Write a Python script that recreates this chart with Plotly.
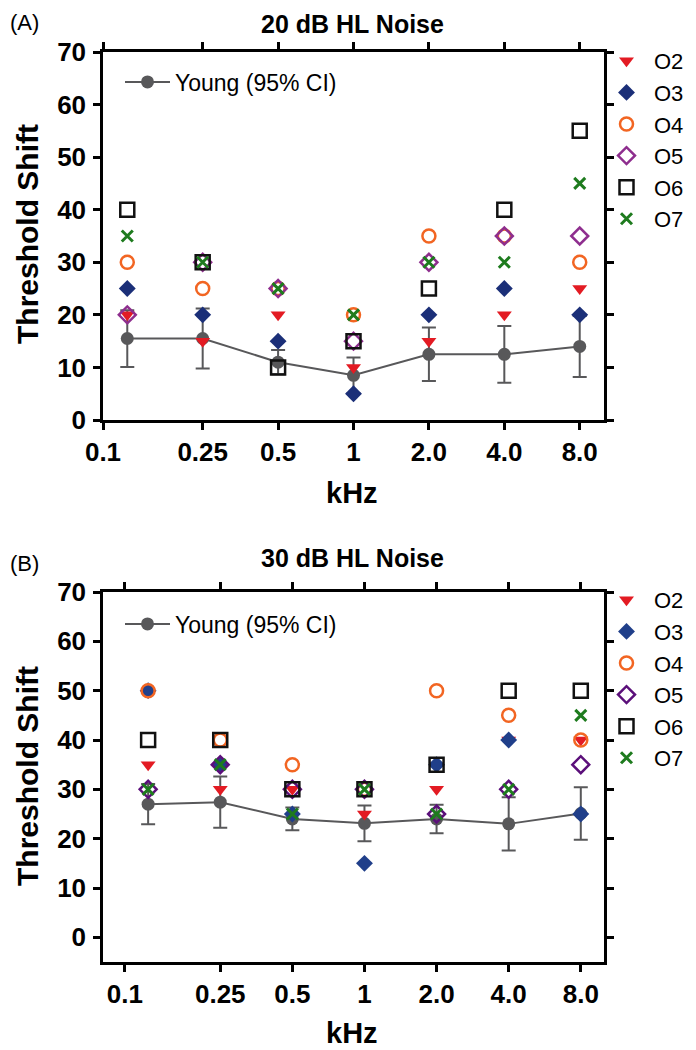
import plotly.graph_objects as go

# ---------------- data ----------------
freqs = [0.125, 0.25, 0.5, 1, 2, 4, 8]
tick_vals = [0.1, 0.25, 0.5, 1, 2, 4, 8]
tick_text = ["0.1", "0.25", "0.5", "1", "2.0", "4.0", "8.0"]
series_names = ["O2", "O3", "O4", "O5", "O6", "O7"]

# Panel A: 20 dB HL noise
young_a = [15.5, 15.5, 11.0, 8.5, 12.5, 12.5, 14.0]
young_a_ci = [5.4, 5.7, 2.3, 3.4, 5.1, 5.4, 5.8]
o2_a = [20, 15, 20, 10, 15, 20, 25]
o3_a = [25, 20, 15, 5, 20, 25, 20]
o4_a = [30, 25, 25, 20, 35, 35, 30]
o5_a = [20, 30, 25, 15, 30, 35, 35]
o6_a = [40, 30, 10, 15, 25, 40, 55]
o7_a = [35, 30, 25, 20, 30, 30, 45]

# Panel B: 30 dB HL noise
young_b = [27.0, 27.4, 24.0, 23.1, 24.0, 23.0, 25.1]
young_b_ci = [4.1, 5.2, 2.3, 3.6, 2.9, 5.4, 5.3]
o2_b = [35, 30, 30, 25, 30, 40, 40]
o3_b = [50, 35, 25, 15, 35, 40, 25]
o4_b = [50, 40, 35, 30, 50, 45, 40]
o5_b = [30, 35, 30, 30, 25, 30, 35]
o6_b = [40, 40, 30, 30, 35, 50, 50]
o7_b = [30, 35, 25, 30, 25, 30, 45]

# page has an 8px body margin: figure drawn at (8, 8)
OFF = 8
W, H = 696 - OFF, 1050 - OFF
FONT = "Liberation Sans, Arial, sans-serif"
GRAY = "#58585a"

def px_x(v):
    return (v - OFF) / W

def px_y(v):
    return 1 - (v - OFF) / H

styles_a = [
    dict(symbol="triangle-down", color="#e31b23", size=13, line=dict(width=0)),
    dict(symbol="diamond", color="#1b2f78", size=13, line=dict(width=0)),
    dict(symbol="circle-open", color="#f26522", size=13, line=dict(width=2.5, color="#f26522")),
    dict(symbol="diamond-open", color="#8e2e8e", size=13, line=dict(width=2.5, color="#8e2e8e")),
    dict(symbol="square-open", color="#111111", size=14, line=dict(width=2.5, color="#111111")),
    dict(symbol="x-thin", color="#1e7b1e", size=11, line=dict(width=3, color="#1e7b1e")),
]
styles_b = [
    dict(symbol="triangle-down", color="#e31b23", size=13, line=dict(width=0)),
    dict(symbol="diamond", color="#203f8a", size=13, line=dict(width=0)),
    dict(symbol="circle-open", color="#f26522", size=13, line=dict(width=2.5, color="#f26522")),
    dict(symbol="diamond-open", color="#5b0f7a", size=13, line=dict(width=2.5, color="#5b0f7a")),
    dict(symbol="square-open", color="#111111", size=14, line=dict(width=2.5, color="#111111")),
    dict(symbol="x-thin", color="#1e7b1e", size=11, line=dict(width=3, color="#1e7b1e")),
]

fig = go.Figure()

panels = [
    ("x", "y", young_a, young_a_ci, [o2_a, o3_a, o4_a, o5_a, o6_a, o7_a], styles_a, "legend", "legend2"),
    ("x2", "y2", young_b, young_b_ci, [o2_b, o3_b, o4_b, o5_b, o6_b, o7_b], styles_b, "legend3", "legend4"),
]

for xa, ya, young, ci, series, styles, leg1, leg2 in panels:
    fig.add_trace(go.Scatter(
        x=freqs, y=young, xaxis=xa, yaxis=ya, mode="lines+markers",
        name="Young (95% CI)", legend=leg1, showlegend=True,
        line=dict(color=GRAY, width=2),
        marker=dict(color=GRAY, size=13, symbol="circle"),
        error_y=dict(type="data", array=ci, visible=True, color=GRAY, thickness=2, width=7),
    ))
    for name, vals, st in zip(series_names, series, styles):
        fig.add_trace(go.Scatter(
            x=freqs, y=vals, xaxis=xa, yaxis=ya, mode="markers",
            name=name, legend=leg2, showlegend=True, marker=st,
        ))

axis_common = dict(
    showline=True, linewidth=2.5, linecolor="black", mirror="ticks",
    ticks="outside", ticklen=7, tickwidth=2.5, tickcolor="black",
    showgrid=False, zeroline=False, automargin=False,
    tickfont=dict(family=FONT, size=26, color="black", weight="bold"),
)

# Panel geometry (reference pixels)
xl, xr = 103, 604
a_top, a_bot = 52, 420
b_top, b_bot = 592, 962

fig.update_layout(
    width=W, height=H, showlegend=True,
    margin=dict(l=0, r=0, t=0, b=0, autoexpand=False),
    paper_bgcolor="white", plot_bgcolor="white",
    font=dict(family=FONT, color="black"),
    xaxis=dict(axis_common, type="log", range=[-1, 1], tickvals=tick_vals, ticktext=tick_text,
               domain=[px_x(xl), px_x(xr)], anchor="y", ticklabelstandoff=0),
    yaxis=dict(axis_common, range=[0, 70], tickvals=list(range(0, 80, 10)),
               domain=[px_y(a_bot), px_y(a_top)], anchor="x", ticklabelstandoff=2),
    xaxis2=dict(axis_common, type="log", range=[-1.0915, 1], tickvals=tick_vals, ticktext=tick_text,
                domain=[px_x(xl), px_x(xr)], anchor="y2", ticklabelstandoff=0),
    yaxis2=dict(axis_common, range=[-5, 70], tickvals=list(range(0, 80, 10)),
                domain=[px_y(b_bot), px_y(b_top)], anchor="x2", ticklabelstandoff=2),
)

leg_young = dict(bgcolor="rgba(0,0,0,0)", font=dict(family=FONT, size=23, color="black"),
                 xanchor="left", yanchor="middle", itemwidth=45, visible=True)
leg_obs = dict(bgcolor="rgba(0,0,0,0)", font=dict(family=FONT, size=22, color="black"),
               xanchor="left", yanchor="top", itemwidth=45, tracegroupgap=0, visible=True)
fig.update_layout(
    legend=dict(leg_young, x=px_x(120), y=px_y(82)),
    legend2=dict(leg_obs, x=px_x(599), y=px_y(40)),
    legend3=dict(leg_young, x=px_x(120), y=px_y(624)),
    legend4=dict(leg_obs, x=px_x(599), y=px_y(579)),
)

ann = []
def add_text(text, x, y, size, bold=False, angle=0):
    ann.append(dict(text=text, x=px_x(x), y=px_y(y), xref="paper", yref="paper",
                    showarrow=False, xanchor="center", yanchor="middle", textangle=angle,
                    font=dict(family=FONT, size=size, color="black", weight="bold" if bold else "normal")))

add_text("(A)", 24, 22, 22)
add_text("20 dB HL Noise", 352, 24, 25, bold=True)
add_text("kHz", 352, 493, 29, bold=True)
add_text("Threshold Shift", 27, 234, 30, bold=True, angle=-90)

add_text("(B)", 24, 563, 22)
add_text("30 dB HL Noise", 352, 558, 25, bold=True)
add_text("kHz", 352, 1033, 29, bold=True)
add_text("Threshold Shift", 27, 776, 30, bold=True, angle=-90)

fig.update_layout(annotations=ann)

fig.write_html("out.html")
